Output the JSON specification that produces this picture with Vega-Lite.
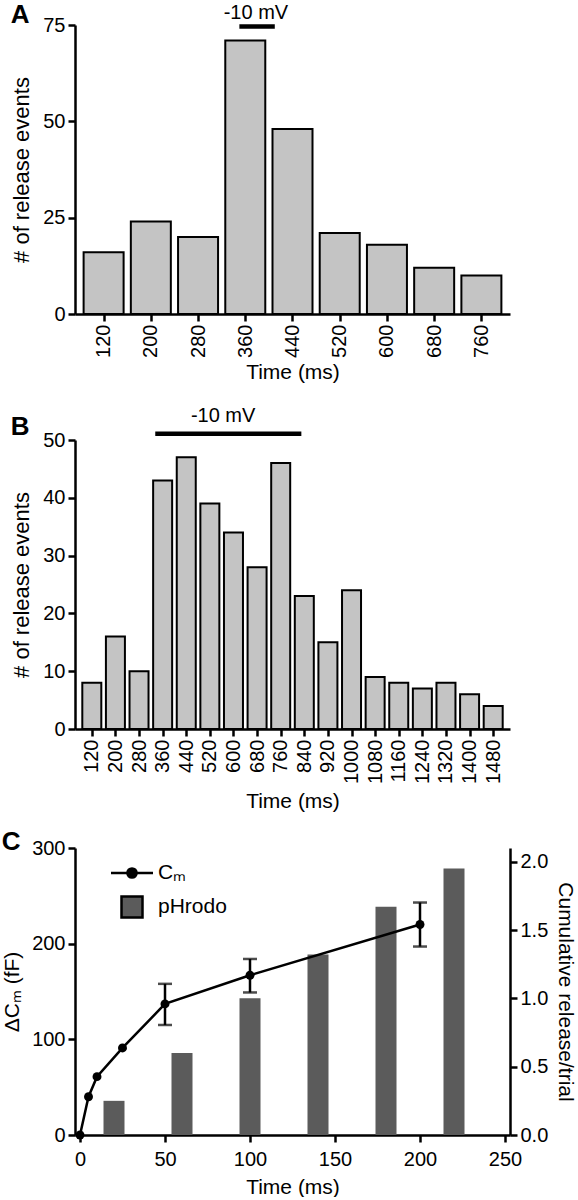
{
  "$schema": "https://vega.github.io/schema/vega-lite/v6.json",
  "padding": {"top": 2, "left": 1, "right": 2, "bottom": 0},
  "background": "white",
  "config": {
    "font": "Liberation Sans",
    "view": {"stroke": null},
    "axis": {
      "labelFont": "Liberation Sans", "titleFont": "Liberation Sans",
      "labelFontSize": 20, "titleFontSize": 21, "titleFontWeight": "normal",
      "labelColor": "black", "titleColor": "black",
      "domainColor": "black", "tickColor": "black",
      "domainWidth": 2.5, "tickWidth": 2.5, "tickSize": 7,
      "grid": false, "labelPadding": 3, "titlePadding": 6, "labelFlush": false, "labelOverlap": false
    },
    "title": {"font": "Liberation Sans", "fontSize": 26, "fontWeight": "bold", "color": "black", "anchor": "start", "frame": "bounds"}
  },
  "datasets": {
    "panelA": [
      {"time": 120, "count": 16}, {"time": 200, "count": 24}, {"time": 280, "count": 20},
      {"time": 360, "count": 71}, {"time": 440, "count": 48}, {"time": 520, "count": 21},
      {"time": 600, "count": 18}, {"time": 680, "count": 12}, {"time": 760, "count": 10}
    ],
    "pulseA": [{"start": 350, "end": 410, "center": 378, "label": "-10 mV"}],
    "panelB": [
      {"time": 120, "count": 8}, {"time": 200, "count": 16}, {"time": 280, "count": 10},
      {"time": 360, "count": 43}, {"time": 440, "count": 47}, {"time": 520, "count": 39},
      {"time": 600, "count": 34}, {"time": 680, "count": 28}, {"time": 760, "count": 46},
      {"time": 840, "count": 23}, {"time": 920, "count": 15}, {"time": 1000, "count": 24},
      {"time": 1080, "count": 9}, {"time": 1160, "count": 8}, {"time": 1240, "count": 7},
      {"time": 1320, "count": 8}, {"time": 1400, "count": 6}, {"time": 1480, "count": 4}
    ],
    "pulseB": [{"start": 335, "end": 830, "center": 565, "label": "-10 mV"}],
    "phrodo": [
      {"time": 20, "release": 0.25, "series": "pHrodo"},
      {"time": 60, "release": 0.6, "series": "pHrodo"},
      {"time": 100, "release": 1.0, "series": "pHrodo"},
      {"time": 140, "release": 1.32, "series": "pHrodo"},
      {"time": 180, "release": 1.67, "series": "pHrodo"},
      {"time": 220, "release": 1.95, "series": "pHrodo"}
    ],
    "cm": [
      {"time": 0, "cm": 0, "series": "Cₘ"},
      {"time": 5, "cm": 40, "series": "Cₘ"},
      {"time": 10, "cm": 61, "series": "Cₘ"},
      {"time": 25, "cm": 91, "series": "Cₘ"},
      {"time": 50, "cm": 137, "lo": 115, "hi": 158, "series": "Cₘ"},
      {"time": 100, "cm": 167, "lo": 149, "hi": 184, "series": "Cₘ"},
      {"time": 200, "cm": 220, "lo": 197, "hi": 243, "series": "Cₘ"}
    ]
  },
  "resolve": {"scale": {"color": "independent", "shape": "independent"}, "legend": {"color": "independent", "shape": "independent"}},
  "vconcat": [
    {
      "width": 435, "height": 289,
      "title": {"text": "A", "offset": -25},
      "layer": [
        {
          "data": {"name": "panelA"},
          "mark": {"type": "bar", "size": 40, "fill": "#c4c4c4", "stroke": "black", "strokeWidth": 2},
          "encoding": {
            "x": {"field": "time", "type": "quantitative",
                  "scale": {"domain": [80, 800], "nice": false, "zero": false},
                  "axis": {"values": [120, 200, 280, 360, 440, 520, 600, 680, 760], "tickCount": 20, "labelAngle": 270, "format": "d", "title": "Time (ms)", "titlePadding": 4, "labelOverlap": false}},
            "y": {"field": "count", "type": "quantitative",
                  "scale": {"domain": [0, 75], "nice": false},
                  "axis": {"values": [0, 25, 50, 75], "title": "# of release events", "titleFontSize": 22, "titlePadding": 9}}
          }
        },
        {
          "data": {"name": "pulseA"},
          "mark": {"type": "rule", "strokeWidth": 4.5, "color": "black"},
          "encoding": {
            "x": {"field": "start", "type": "quantitative"},
            "x2": {"field": "end"},
            "y": {"datum": 74.6}
          }
        },
        {
          "data": {"name": "pulseA"},
          "mark": {"type": "text", "fontSize": 20, "baseline": "middle", "align": "center", "color": "black"},
          "encoding": {
            "x": {"field": "center", "type": "quantitative"},
            "y": {"datum": 78.0},
            "text": {"field": "label"}
          }
        }
      ]
    },
    {
      "resolve": {"scale": {"color": "independent", "shape": "independent"}, "legend": {"color": "independent", "shape": "independent"}},
      "vconcat": [
        {
          "width": 435, "height": 289,
          "title": {"text": "B", "offset": -34},
          "layer": [
            {
              "data": {"name": "panelB"},
              "mark": {"type": "bar", "size": 19, "fill": "#c4c4c4", "stroke": "black", "strokeWidth": 2},
              "encoding": {
                "x": {"field": "time", "type": "quantitative",
                      "scale": {"domain": [80, 1520], "nice": false, "zero": false},
                      "axis": {"values": [120, 200, 280, 360, 440, 520, 600, 680, 760, 840, 920, 1000, 1080, 1160, 1240, 1320, 1400, 1480], "tickCount": 40, "labelAngle": 270, "format": "d", "title": "Time (ms)", "titlePadding": 7, "labelOverlap": false}},
                "y": {"field": "count", "type": "quantitative",
                      "scale": {"domain": [0, 50], "nice": false},
                      "axis": {"values": [0, 10, 20, 30, 40, 50], "title": "# of release events", "titleFontSize": 22, "titlePadding": 9}}
              }
            },
            {
              "data": {"name": "pulseB"},
              "mark": {"type": "rule", "strokeWidth": 4.5, "color": "black"},
              "encoding": {
                "x": {"field": "start", "type": "quantitative"},
                "x2": {"field": "end"},
                "y": {"datum": 51.1}
              }
            },
            {
              "data": {"name": "pulseB"},
              "mark": {"type": "text", "fontSize": 20, "baseline": "middle", "align": "center", "color": "black"},
              "encoding": {
                "x": {"field": "center", "type": "quantitative"},
                "y": {"datum": 54.1},
                "text": {"field": "label"}
              }
            }
          ]
        },
        {
          "width": 435, "height": 287,
          "title": {"text": "C", "offset": -17},
          "resolve": {"scale": {"y": "independent"}},
          "layer": [
            {
              "data": {"name": "phrodo"},
              "mark": {"type": "bar", "size": 21},
              "encoding": {
                "x": {"field": "time", "type": "quantitative",
                      "scale": {"domain": [0, 250], "nice": false},
                      "axis": {"values": [0, 50, 100, 150, 200, 250], "labelAngle": 0, "title": "Time (ms)", "labelPadding": 7, "titlePadding": 7}},
                "y": {"field": "release", "type": "quantitative",
                      "scale": {"domain": [0, 2.1], "nice": false},
                      "axis": {"orient": "right", "values": [0, 0.5, 1, 1.5, 2], "format": ".1f", "title": "Cumulative release/trial", "titlePadding": 7}},
                "color": {"field": "series", "type": "nominal",
                          "scale": {"domain": ["Cₘ", "pHrodo"], "range": ["black", "#5b5b5b"]},
                          "legend": {"orient": "none", "legendX": 45, "legendY": 13, "title": null, "symbolSize": 441, "labelFontSize": 21, "labelFont": "Liberation Sans", "labelColor": "black", "labelOffset": 14, "rowPadding": 8, "padding": 0, "symbolStrokeColor": "black", "symbolStrokeWidth": 2.5, "symbolOpacity": 1}}
              }
            },
            {
              "layer": [
                {
                  "data": {"name": "cm"},
                  "transform": [{"filter": "datum.lo != null"}],
                  "mark": {"type": "errorbar", "ticks": {"size": 14, "thickness": 2.5, "color": "black"}, "rule": {"strokeWidth": 2.5, "color": "black"}},
                  "encoding": {
                    "x": {"field": "time", "type": "quantitative"},
                    "y": {"field": "lo", "type": "quantitative", "scale": {"domain": [0, 300], "nice": false}, "axis": {"values": [0, 100, 200, 300], "title": "ΔCₘ (fF)", "titlePadding": 9}},
                    "y2": {"field": "hi"}
                  }
                },
                {
                  "data": {"name": "cm"},
                  "mark": {"type": "line", "color": "black", "strokeWidth": 2.5},
                  "encoding": {
                    "x": {"field": "time", "type": "quantitative"},
                    "y": {"field": "cm", "type": "quantitative"}
                  }
                },
                {
                  "data": {"name": "cm"},
                  "mark": {"type": "circle", "opacity": 1, "size": 80, "color": "black"},
                  "encoding": {
                    "x": {"field": "time", "type": "quantitative"},
                    "y": {"field": "cm", "type": "quantitative"}
                  }
                },
                {
                  "data": {"name": "cm"},
                  "mark": {"type": "point", "filled": true, "opacity": 0, "stroke": "black", "strokeWidth": 2.5},
                  "encoding": {
                    "x": {"field": "time", "type": "quantitative"},
                    "y": {"field": "cm", "type": "quantitative"},
                    "color": {"field": "series", "type": "nominal"},
                    "shape": {"field": "series", "type": "nominal",
                              "scale": {"domain": ["Cₘ", "pHrodo"], "range": ["M-2,0H2M0.44,0A0.44,0.44,0,1,1,-0.44,0A0.44,0.44,0,1,1,0.44,0Z", "square"]},
                              "legend": {"orient": "none", "legendX": 45, "legendY": 13, "title": null, "symbolSize": 441, "labelFontSize": 21, "labelFont": "Liberation Sans", "labelColor": "black", "labelOffset": 14, "rowPadding": 8, "padding": 0, "symbolStrokeColor": "black", "symbolStrokeWidth": 2.5, "symbolOpacity": 1}}
                  }
                }
              ]
            }
          ]
        }
      ],
      "spacing": 119,
      "bounds": "flush"
    }
  ],
  "spacing": 126,
  "bounds": "flush"
}
